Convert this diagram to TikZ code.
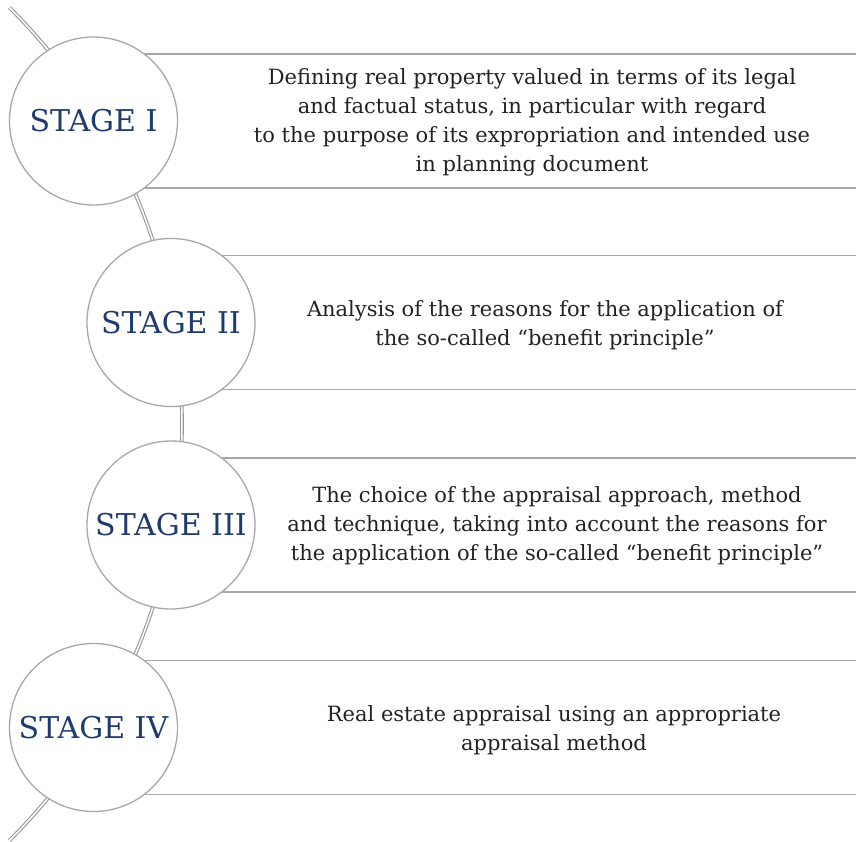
\documentclass[tikz,border=0pt]{standalone}
\usepackage{fontspec}
\setmainfont{DejaVu Serif}
\usetikzlibrary{backgrounds}

\definecolor{stageblue}{HTML}{1F3B6E}
\definecolor{rulegray}{HTML}{A8A8AC}
\definecolor{textgray}{HTML}{222222}

\tikzset{
  stagecircle/.style={circle, draw=rulegray, line width=1.3pt, fill=white,
    minimum size=168pt, inner sep=0pt, text=stageblue,
    font=\fontsize{30}{32}\selectfont},
  stagetext/.style={align=center, text=textgray, inner sep=0pt,
    font=\fontsize{21}{29}\selectfont},
  rule/.style={draw=rulegray, line width=1.8pt},
  spine/.style={draw=rulegray!90!black, line width=1.1pt, double=white, double distance=1.5pt}
}

\begin{document}
\begin{tikzpicture}[x=1pt,y=-1pt]
\useasboundingbox (0,0) rectangle (856,842);

% Half width of each band
\def\band{67}

% Stage circles
\foreach \i/\cx/\cy/\lbl in {1/93.5/121/I, 2/171/322.5/II, 3/171/525/III, 4/93.5/727.5/IV} {
    \node[stagecircle] (stage\i) at (\cx,\cy) {STAGE \lbl};
    \begin{scope}[on background layer]
        \draw[rule] (\cx,{\cy-\band}) -- (856,{\cy-\band}); % top rule
        \draw[rule] (\cx,{\cy+\band}) -- (856,{\cy+\band}); % bottom rule
    \end{scope}
}

% Spine running behind the circles
\begin{scope}[on background layer]
    \coordinate (hub) at (-407,424);
    \draw[spine] (hub) ++(-45:589) arc (-45:45:589);
\end{scope}

% Descriptions
\node[stagetext] (desc1) at (532,122) {Defining real property valued in terms of its legal\\
    and factual status, in particular with regard\\
    to the purpose of its expropriation and intended use\\
    in planning document};
\node[stagetext] (desc2) at (545,325) {Analysis of the reasons for the application of\\
    the so-called “benefit principle”};
\node[stagetext] (desc3) at (557,526) {The choice of the appraisal approach, method\\
    and technique, taking into account the reasons for\\
    the application of the so-called “benefit principle”};
\node[stagetext] (desc4) at (554,730) {Real estate appraisal using an appropriate\\
    appraisal method};

\end{tikzpicture}
\end{document}
